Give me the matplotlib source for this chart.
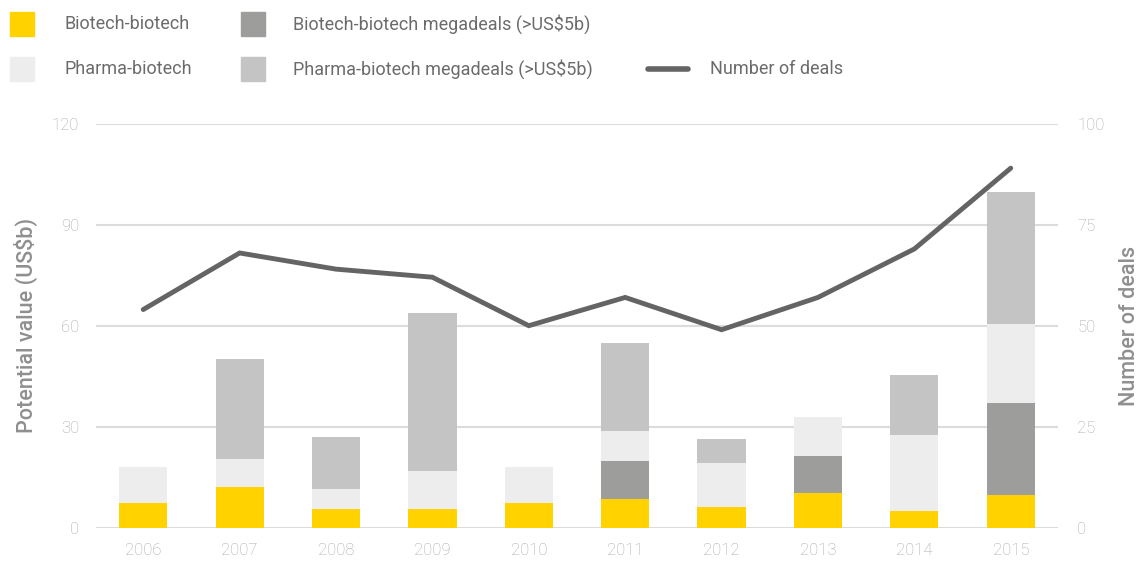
import numpy as np
import matplotlib.pyplot as plt
from matplotlib.patches import Rectangle
from matplotlib.lines import Line2D

plt.rcParams['font.family'] = ['Roboto', 'DejaVu Sans']
plt.rcParams['font.weight'] = 'light'

years = ['2006', '2007', '2008', '2009', '2010', '2011', '2012', '2013', '2014', '2015']
biotech = [7.4, 12.2, 5.6, 5.6, 7.4, 8.5, 6.2, 10.4, 5.0, 9.8]
biotech_mega = [0, 0, 0, 0, 0, 11.4, 0, 10.8, 0, 27.3]
pharma = [10.7, 8.3, 6.0, 11.3, 10.7, 8.9, 13.1, 11.8, 22.6, 23.3]
pharma_mega = [0, 29.7, 15.4, 47.0, 0, 26.2, 7.1, 0, 17.8, 39.2]
deals = [54, 68, 64, 62, 50, 57, 49, 57, 69, 89]

labels = ['Biotech-biotech', 'Biotech-biotech megadeals (>US$5b)',
          'Pharma-biotech', 'Pharma-biotech megadeals (>US$5b)', 'Number of deals']
c_yel = '#ffd200'
c_dark = '#9d9d9c'
c_light = '#ededed'
c_mid = '#c4c4c4'
c_line = '#646464'
tick_col = '#a8a8a8'
lab_col = '#8f8f8f'

W, H = 1144, 562
fig = plt.figure(figsize=(W / 100, H / 100), dpi=100)
ax = fig.add_axes([96 / W, 1 - 527.7 / H, (1058 - 96) / W, (527.7 - 123.7) / H])
ax2 = ax.twinx()

x = np.arange(len(years))
b1 = np.array(biotech)
b2 = b1 + np.array(biotech_mega)
b3 = b2 + np.array(pharma)
w = 0.5
ax.bar(x, biotech, w, color=c_yel, zorder=2)
ax.bar(x, biotech_mega, w, bottom=b1, color=c_dark, zorder=2)
ax.bar(x, pharma, w, bottom=b2, color=c_light, zorder=2)
ax.bar(x, pharma_mega, w, bottom=b3, color=c_mid, zorder=2)

ax2.plot(x, deals, color=c_line, lw=3.5, solid_capstyle='round', solid_joinstyle='miter')

ax.set_xlim(-0.49, 9.49)
ax.set_ylim(0, 120)
ax.set_yticks(np.arange(0, 121, 30))
ax2.set_ylim(0, 100)
ax2.set_yticks(np.arange(0, 101, 25))
ax.set_xticks(x)
ax.set_xticklabels(years)
ax.grid(axis='y', color='#dcdcdc', lw=1.5, zorder=0)
ax.set_axisbelow(True)

for a in (ax, ax2):
    for s in a.spines.values():
        s.set_visible(False)
ax.tick_params(axis='both', length=0, colors=tick_col, labelsize=12)
ax.tick_params(axis='y', pad=12)
ax.tick_params(axis='x', pad=11)
ax2.tick_params(axis='y', length=0, colors=tick_col, labelsize=12, pad=14)

ax.set_ylabel('Potential value (US$b)', color=lab_col, fontsize=15.5, labelpad=10,
              fontweight='medium')
ax2.set_ylabel('Number of deals', color=lab_col, fontsize=15.5, labelpad=10,
               fontweight='medium')

# legend at the top, drawn by hand in pixel positions
def fx(px):
    return px / W

def fy(py):
    return 1 - py / H

legend_items = [
    (10, 24, c_yel, 64, labels[0]),
    (241, 24, c_dark, 293, labels[1]),
    (10, 69, c_light, 64, labels[2]),
    (241, 69, c_mid, 293, labels[3]),
]
for px, py, col, tx, txt in legend_items:
    fig.add_artist(Rectangle((fx(px), fy(py + 12)), fx(24), 24 / H,
                             transform=fig.transFigure, color=col))
    fig.text(fx(tx), fy(py), txt, va='center', ha='left', color='#6b6b6b', fontsize=13,
             fontweight='normal')
fig.add_artist(Line2D([fx(648), fx(688)], [fy(69), fy(69)], transform=fig.transFigure,
                      color=c_line, lw=4, solid_capstyle='round'))
fig.text(fx(710), fy(69), labels[4], va='center', ha='left', color='#6b6b6b', fontsize=13,
         fontweight='normal')

fig.savefig('out.png', dpi=100)
